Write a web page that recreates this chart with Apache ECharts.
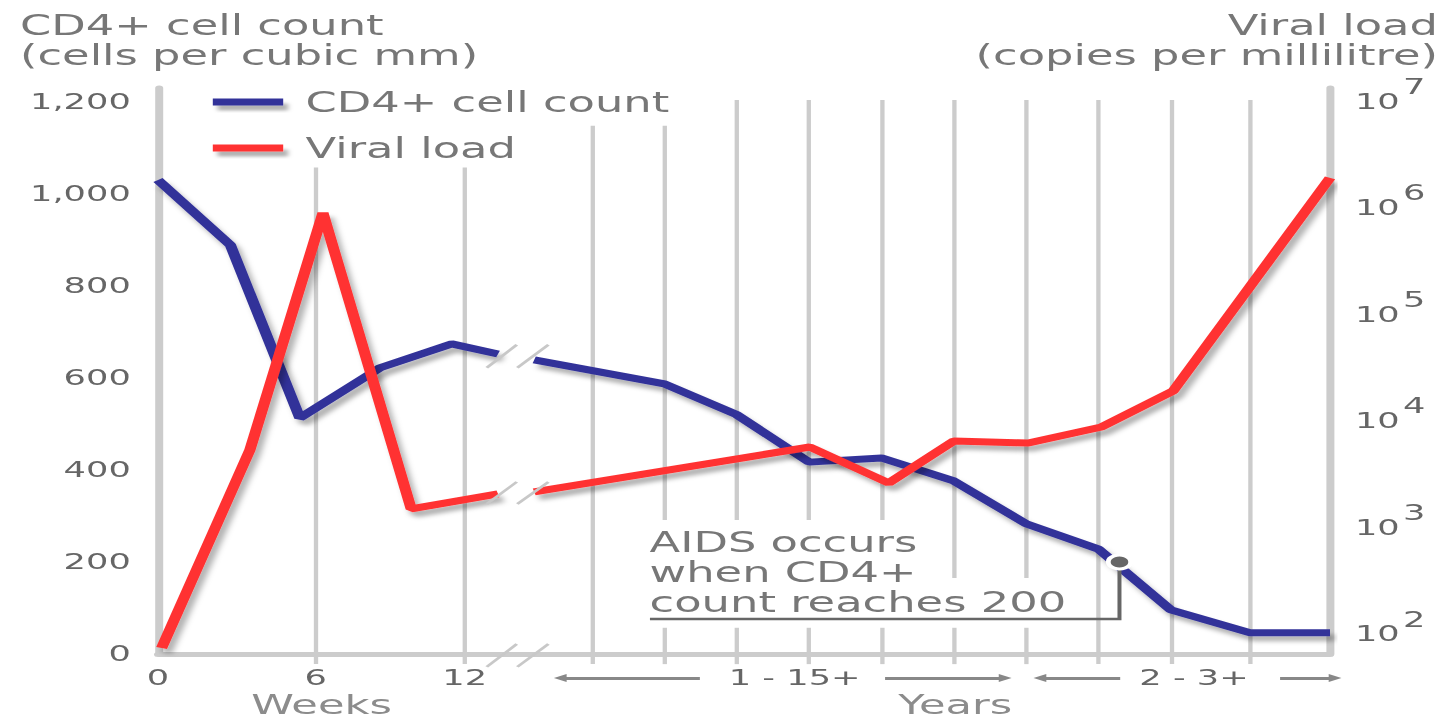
<!DOCTYPE html>
<html><head><meta charset="utf-8">
<script src="https://cdn.jsdelivr.net/npm/echarts@6/dist/echarts.min.js"></script>
<style>
html,body{margin:0;padding:0;background:#fff;overflow:hidden;}
#chart{width:905px;height:721px;transform:scaleX(1.6);transform-origin:0 0;}
</style></head><body><div id="chart"></div>
<script>
// ---- data (x in axis units: one unit = one gridline step of the "years" section) ----
const weekTickPos = [0, 2.18, 4.24];
const weekTickLabels = ['0', '6', '12'];
const periodLabelPos = [8.80, 14.32];
const periodLabels = ['1 - 15+', '2 - 3+'];
const cd4Ticks = [0, 200, 400, 600, 800, 1000, 1200];
const viralExponents = [2, 3, 4, 5, 6, 7];
// CD4+ cell count (cells per cubic mm); null marks the axis break
const cd4Series = [[0,1030],[1.0,889],[1.96,513],[3.07,622],[4.06,674],[4.7,652],[4.95,null],[5.2,639],
  [7,587],[8,520],[9,417],[10,426],[11,376],[12,283],[13,228],[14,96],[15.1,46],[16.2,46]];
// Viral load (copies per millilitre)
const viralSeries = [[0.05,74],[1.27,5320],[2.28,890000],[3.5,1490],[4.7,2060],[4.95,null],[5.2,2150],
  [9.01,5680],[10.1,2610],[11,6460],[12.03,6190],[13.04,8750],[14.03,19000],[16.2,1900000]];
// AIDS threshold marker
const aidsPoint = [13.29, 200];

// ---- decoration geometry (axis units) ----
const gridSegments = [
  [2.18,-22,1057],[4.24,-22,1057],[6,-22,1148],
  [7,-22,57],[7,291,1148],[8,-22,57],[8,291,1204],[9,-22,57],[9,291,1204],[10,-22,57],[10,291,1204],
  [11,-22,57],[11,165,1204],[12,-22,57],[12,165,1204],[13,-22,1204],[14,-22,1204],[15.1,-22,1204]
];
const breakSlashes = [
  [[4.544,-28],[4.959,21.7]],[[4.967,-28],[5.396,21.7]],
  [[4.544,622],[4.959,672]],[[4.967,622],[5.396,672]],
  [[4.544,326],[4.959,374]],[[4.967,326],[5.396,374]]
];
const arrows = [
  [[7.49,-52],[5.56,-52]],[[10.05,-52],[11.71,-52]],
  [[13.30,-52],[12.19,-52]],[[15.51,-52],[16.27,-52]]
];
const annotationPath = [[13.29,200],[13.29,76],[6.80,76]];

const FONT = 'DejaVu Sans';
const chart = echarts.init(document.getElementById('chart'), null, {renderer: 'svg'});

function xLabel(v) {
  for (let i = 0; i < weekTickPos.length; i++) if (Math.abs(v - weekTickPos[i]) < 1e-6) return weekTickLabels[i];
  for (let i = 0; i < periodLabelPos.length; i++) if (Math.abs(v - periodLabelPos[i]) < 1e-6) return periodLabels[i];
  return '';
}

const option = {
  animation: false,
  backgroundColor: '#fff',
  textStyle: {fontFamily: FONT},
  grid: {left: 98.75, right: 73.75, top: 88, bottom: 67, containLabel: false},
  legend: {
    data: ['CD4+ cell count', 'Viral load'], orient: 'vertical', left: 133, top: 86, padding: 0,
    itemWidth: 44, itemHeight: 7, itemGap: 14, icon: 'rect', selectedMode: false,
    textStyle: {fontFamily: FONT, fontSize: 28, color: '#777', lineHeight: 32, padding: [0,0,0,9]},
    itemStyle: {shadowColor: 'rgba(0,0,0,0.3)', shadowBlur: 3, shadowOffsetX: 3, shadowOffsetY: 5}
  },
  xAxis: {
    type: 'value', min: 0, max: 16.2,
    axisLine: {onZero: false, lineStyle: {color: '#cccccc', width: 5}},
    axisTick: {show: false}, splitLine: {show: false},
    axisLabel: {customValues: weekTickPos.concat(periodLabelPos), formatter: xLabel, margin: 12,
      fontFamily: FONT, fontSize: 22, color: '#666'}
  },
  yAxis: [
    {
      type: 'value', min: cd4Ticks[0], max: 1230, interval: 200, position: 'left',
      axisLine: {show: true, onZero: false, lineStyle: {color: '#cccccc', width: 5}},
      axisTick: {show: false}, splitLine: {show: false},
      axisLabel: {showMaxLabel: false, margin: 17, fontFamily: FONT, fontSize: 22, color: '#666',
        formatter: v => (cd4Ticks.indexOf(v) >= 0 ? v.toLocaleString('en-US') : '')}
    },
    {
      type: 'log', logBase: 10, min: Math.pow(10, 1.8124), max: Math.pow(10, 7.122), position: 'right',
      axisLine: {show: true, onZero: false, lineStyle: {color: '#cccccc', width: 5}},
      axisTick: {show: false}, splitLine: {show: false}, minorTick: {show: false},
      axisLabel: {
        margin: 15.6,
        formatter: function (v) {
          const e = Math.log10(v), r = Math.round(e);
          if (Math.abs(e - r) > 1e-6 || viralExponents.indexOf(r) < 0) return '';
          return '{b|10}{e|' + r + '}';
        },
        rich: {
          b: {fontFamily: FONT, fontSize: 22, color: '#666'},
          e: {fontFamily: FONT, fontSize: 22, color: '#666', padding: [0, 0, 30, 2]}
        }
      }
    }
  ],
  graphic: [
    {type: 'text', x: 12.5, y: 10, silent: true, style: {text: 'CD4+ cell count\n(cells per cubic mm)',
      font: '28px "DejaVu Sans"', fontFamily: FONT, fontSize: 28, fill: '#777', lineHeight: 30, verticalAlign: 'top', align: 'left'}},
    {type: 'text', x: 898.75, y: 10, silent: true, style: {text: 'Viral load\n(copies per millilitre)',
      font: '28px "DejaVu Sans"', fontFamily: FONT, fontSize: 28, fill: '#777', lineHeight: 30, verticalAlign: 'top', align: 'right', textAlign: 'right'}},
    {type: 'text', x: 406, y: 527, silent: true, z: 10, style: {text: 'AIDS occurs\nwhen CD4+\ncount reaches 200',
      font: '28px "DejaVu Sans"', fontFamily: FONT, fontSize: 28, fill: '#777', lineHeight: 30, verticalAlign: 'top', align: 'left'}},
    {type: 'text', x: 201, y: 705, silent: true, style: {text: 'Weeks',
      font: '27px "DejaVu Sans"', fontFamily: FONT, fontSize: 27, fill: '#8c8c8c', align: 'center', textAlign: 'center', verticalAlign: 'middle'}},
    {type: 'text', x: 597, y: 705, silent: true, style: {text: 'Years',
      font: '27px "DejaVu Sans"', fontFamily: FONT, fontSize: 27, fill: '#8c8c8c', align: 'center', textAlign: 'center', verticalAlign: 'middle'}}
  ],
  series: [
    {
      name: 'gridlines', type: 'lines', coordinateSystem: 'cartesian2d', clip: false, silent: true, z: 1,
      data: gridSegments.map(s => ({coords: [[s[0], s[1]], [s[0], s[2]]]})),
      lineStyle: {color: '#cccccc', width: 2.7, opacity: 1}
    },
    {
      name: 'CD4+ cell count', type: 'line', data: cd4Series, yAxisIndex: 0, symbol: 'none', showSymbol: false,
      connectNulls: false, z: 3, itemStyle: {color: '#333399'},
      lineStyle: {color: '#333399', width: 7, shadowColor: 'rgba(0,0,0,0.3)', shadowBlur: 4, shadowOffsetX: 3, shadowOffsetY: 5}
    },
    {
      name: 'Viral load', type: 'line', data: viralSeries, yAxisIndex: 1, symbol: 'none', showSymbol: false,
      connectNulls: false, z: 4, itemStyle: {color: '#ff3333'},
      lineStyle: {color: '#ff3333', width: 7, shadowColor: 'rgba(0,0,0,0.3)', shadowBlur: 4, shadowOffsetX: 3, shadowOffsetY: 5}
    },
    {
      name: 'breaks', type: 'lines', coordinateSystem: 'cartesian2d', clip: false, silent: true, z: 5,
      data: breakSlashes.map(c => ({coords: c})),
      lineStyle: {color: '#c8c8c8', width: 2.2, opacity: 1}
    },
    {
      name: 'arrows', type: 'lines', coordinateSystem: 'cartesian2d', clip: false, silent: true, z: 5,
      symbol: ['none', 'triangle'], symbolSize: [13, 8],
      data: arrows.map(c => ({coords: c})),
      lineStyle: {color: '#888888', width: 3, opacity: 1}
    },
    {
      name: 'annotation', type: 'lines', coordinateSystem: 'cartesian2d', polyline: true, clip: false, silent: true, z: 6,
      data: [{coords: annotationPath}],
      lineStyle: {color: '#666666', width: 2.5, opacity: 1}
    },
    {
      name: 'AIDS threshold', type: 'scatter', data: [aidsPoint], yAxisIndex: 0, symbol: 'circle', symbolSize: 14,
      z: 7, silent: true,
      itemStyle: {color: '#666666', borderColor: '#ffffff', borderWidth: 3, opacity: 1}
    }
  ]
};
chart.setOption(option);
</script></body></html>
